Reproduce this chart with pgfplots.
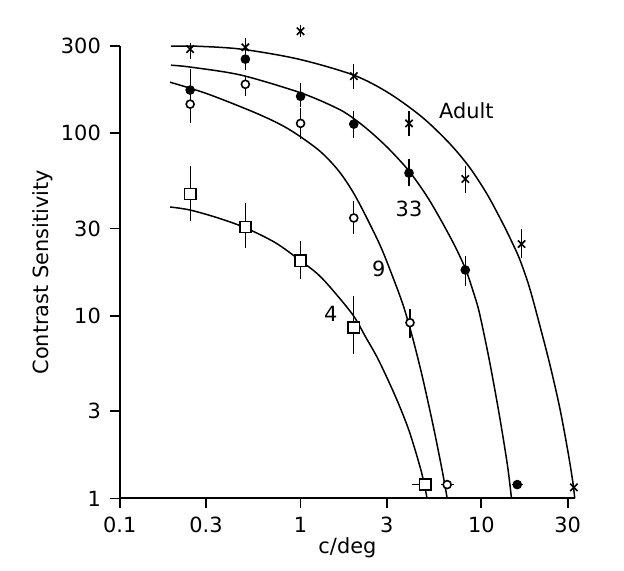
\documentclass[border=0pt]{standalone}
\usepackage{pgfplots}
\pgfplotsset{compat=1.18}
\usepackage{pgfplotstable}
\usepackage{fontspec}
\setmainfont{DejaVu Sans}
\usetikzlibrary{calc}

% Measured sensitivities: x  y  x-err(+) x-err(-) y-err(+) y-err(-)
\pgfplotstableread{
x     y     xp    xm    yp    ym
0.245 288   0     0     22    34
0.495 295   0     0     35    21
1.0   361   0     0     28    26
1.97  205   0     0     33    31
3.98  113   0     0     19    16.7
8.15  56.1  0     0     10    9.1
16.7  24.7  0     0     5.2   4.0
32.5  1.15  0     0     0     0
}\adult
\pgfplotstableread{
x     y     xp    xm    yp    ym
0.245 172   0     0     52    31
0.495 254   0     0     27    33
1.0   159   0     0     29    20
1.97  112   0     0     20    18
3.98  60.4  0     0     11.7  9.1
8.15  17.8  0     0     3.5   3.2
15.8  1.19  1.3   1.1   0     0
}\wkthirtythree
\pgfplotstableread{
x     y     xp    xm    yp    ym
0.245 144   0     0     37    31
0.495 185   0     0     20    26
1.0   113   0     0     24    20
1.97  34.3  0     0     8.2   6.2
4.03  9.16  0     0     1.74  1.57
6.47  1.19  0.61  0.47  0     0
}\wknine
\pgfplotstableread{
x     y     xp    xm    yp    ym
0.245 46.4  0     0     19.7  13.4
0.495 30.6  0     0     10.8  7.1
1.0   20.0  0     0     5.7   4.1
1.97  8.6   0     0     4.3   2.4
4.89  1.19  0.38  0.75  0     0
}\wkfour

\begin{document}
\begin{tikzpicture}
\begin{axis}[
  name=ax,
  scale only axis,
  width=228bp, height=226.6bp,
  xmode=log, ymode=log,
  xmin=0.1, xmax=33, ymin=1, ymax=300,
  axis x line*=bottom, axis y line*=left,
  axis line style={-, line width=1bp},
  clip=false,
  xtick={0.1,0.3,1,3,10,30}, xticklabels={0.1,0.3,1,3,10,30},
  ytick={1,3,10,30,100,300}, yticklabels={1,3,10,30,100,300},
  minor xtick={}, minor ytick={},
  tick align=outside, major tick length=5bp,
  tick style={line width=0.9bp, black},
  ticklabel style={font=\fontsize{10.5}{12}\selectfont},
  xticklabel style={yshift=-1bp},
  yticklabel style={xshift=-1bp},
  xlabel={c/deg}, ylabel={Contrast Sensitivity},
  label style={font=\fontsize{10.5}{12}\selectfont},
  xlabel style={at={(axis description cs:0.5,-0.108)}, anchor=center},
  ylabel style={at={(axis description cs:-0.169,0.5)}, anchor=center},
  every axis plot/.append style={black},
  error bars/error bar style={line width=0.6bp, black},
]
% fitted curves
\addplot[line width=0.75bp, smooth] coordinates {
  (0.192,299) (0.264,299) (0.470,288) (0.975,254) (1.970,207.5) (3.083,165.4)
  (4.701,122.3) (6.640,88.2) (8.577,65.2) (10.66,47.0) (12.59,34.75) (14.31,27.0)
  (16.26,20.5) (18.48,14.22) (21.0,8.93) (23.87,5.47) (27.13,3.14) (30.05,1.83)
  (32.03,1.239) (32.86,1.0)};
\addplot[line width=0.75bp, smooth] coordinates {
  (0.192,235.3) (0.248,229.5) (0.470,207.5) (1.013,165.4) (1.626,135.3) (2.021,117.8)
  (2.480,100) (3.083,81.8) (3.981,62.0) (4.948,45.8) (5.843,34.75) (6.902,25.7)
  (7.548,21.5) (8.254,17.6) (9.028,13.5) (9.747,10.4) (11.08,5.68) (12.59,2.84)
  (13.95,1.514) (14.68,1.0)};
\addplot[line width=0.75bp, smooth] coordinates {
  (0.1896,189.9) (0.3083,163.4) (0.5843,127.0) (0.858,105.2) (1.259,80.7)
  (1.626,62.0) (2.021,44.7) (2.712,25.1) (3.203,16.75) (3.687,11.48)
  (4.137,7.78) (4.701,4.70) (5.412,2.506) (6.072,1.422) (6.473,1.0)};
\addplot[line width=0.75bp, smooth] coordinates {
  (0.19,39.4) (0.245,37.9) (0.35,34.3) (0.495,30.3) (0.726,25.1) (1.0,20.0)
  (1.31,16.1) (1.92,10.3) (2.30,7.59) (2.71,5.68) (3.37,3.56) (3.98,2.35)
  (4.64,1.42) (5.01,1.0)};
% data with error bars
\addplot[only marks, mark=x, mark size=2.6bp, mark options={line width=0.8bp},
  error bars/.cd, y dir=both, y explicit, x dir=both, x explicit, error mark=none]
  table[x=x, y=y, x error plus=xp, x error minus=xm, y error plus=yp, y error minus=ym] {\adult};
\addplot[only marks, mark=*, mark size=2.2bp, mark options={fill=black},
  error bars/.cd, y dir=both, y explicit, x dir=both, x explicit, error mark=none]
  table[x=x, y=y, x error plus=xp, x error minus=xm, y error plus=yp, y error minus=ym] {\wkthirtythree};
\addplot[only marks, mark=*, mark size=2bp, mark options={fill=white, line width=0.8bp},
  error bars/.cd, y dir=both, y explicit, x dir=both, x explicit, error mark=none]
  table[x=x, y=y, x error plus=xp, x error minus=xm, y error plus=yp, y error minus=ym] {\wknine};
\addplot[only marks, mark=square*, mark size=2.8bp, mark options={fill=white, line width=0.8bp},
  error bars/.cd, y dir=both, y explicit, x dir=both, x explicit, error mark=none]
  table[x=x, y=y, x error plus=xp, x error minus=xm, y error plus=yp, y error minus=ym] {\wkfour};
% curve labels
\node[font=\fontsize{10.5}{12}\selectfont] at (axis cs:8.26,132) {Adult};
\node[font=\fontsize{10.5}{12}\selectfont] at (axis cs:3.98,38.4) {33};
\node[font=\fontsize{10.5}{12}\selectfont] at (axis cs:2.71,18.1) {9};
\node[font=\fontsize{10.5}{12}\selectfont] at (axis cs:1.47,10.3) {4};
\end{axis}
\pgfresetboundingbox
\useasboundingbox ($(ax.south west)+(-60bp,-36bp)$) rectangle ($(ax.north east)+(24.5bp,23bp)$);
\end{tikzpicture}
\end{document}
